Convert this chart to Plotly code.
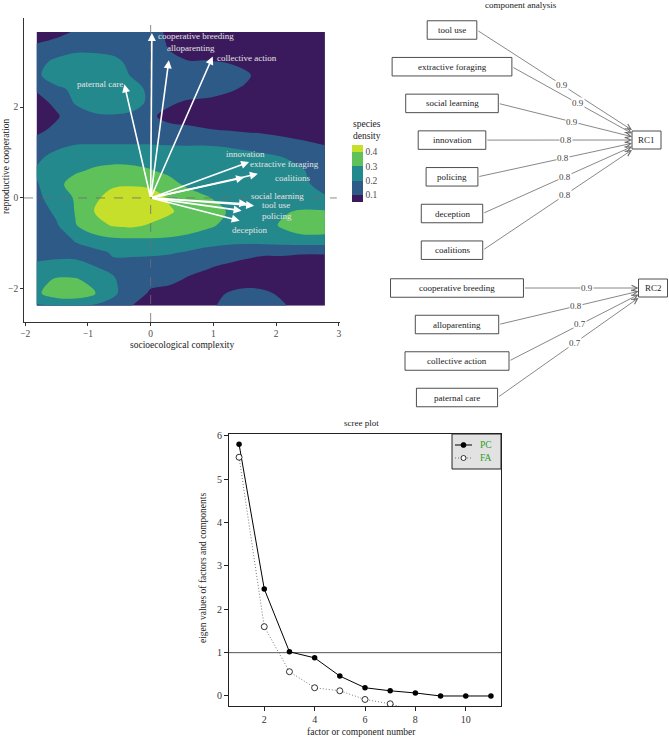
import plotly.graph_objects as go

W, H = 669, 739
FONT = "Liberation Serif"

# ---------------- Panel A: species density in component space ----------------
grid_x = [-1.82, -1.5, -1.2, -0.9, -0.6, -0.3, 0.0, 0.3, 0.6, 0.9, 1.2, 1.5, 1.8, 2.1, 2.4, 2.78]
grid_y = [-2.37, -2.1, -1.8, -1.5, -1.2, -0.9, -0.6, -0.3, 0.0, 0.3, 0.6, 0.9, 1.2, 1.5, 1.8,
          2.1, 2.4, 2.7, 3.0, 3.3, 3.65]
density = [
    [0.19, 0.20, 0.20, 0.19, 0.16, 0.10, 0.07, 0.05, 0.05, 0.08, 0.12, 0.14, 0.13, 0.11, 0.07, 0.05],
    [0.28, 0.36, 0.37, 0.31, 0.22, 0.14, 0.09, 0.07, 0.05, 0.06, 0.10, 0.125, 0.115, 0.085, 0.05, 0.05],
    [0.27, 0.31, 0.31, 0.27, 0.21, 0.15, 0.12, 0.12, 0.09, 0.07, 0.06, 0.06, 0.06, 0.05, 0.05, 0.05],
    [0.22, 0.24, 0.23, 0.20, 0.18, 0.16, 0.15, 0.14, 0.13, 0.11, 0.09, 0.08, 0.07, 0.07, 0.07, 0.07],
    [0.16, 0.16, 0.17, 0.17, 0.21, 0.22, 0.22, 0.21, 0.19, 0.17, 0.15, 0.12, 0.11, 0.11, 0.105, 0.105],
    [0.11, 0.16, 0.21, 0.27, 0.29, 0.295, 0.295, 0.29, 0.28, 0.25, 0.24, 0.25, 0.26, 0.27, 0.28, 0.28],
    [0.12, 0.19, 0.295, 0.36, 0.41, 0.42, 0.39, 0.37, 0.34, 0.32, 0.28, 0.26, 0.27, 0.31, 0.34, 0.34],
    [0.15, 0.22, 0.305, 0.40, 0.45, 0.46, 0.45, 0.41, 0.37, 0.34, 0.30, 0.27, 0.27, 0.29, 0.31, 0.31],
    [0.18, 0.24, 0.31, 0.38, 0.44, 0.46, 0.44, 0.39, 0.35, 0.305, 0.28, 0.26, 0.25, 0.25, 0.24, 0.21],
    [0.19, 0.28, 0.33, 0.37, 0.385, 0.39, 0.38, 0.33, 0.28, 0.27, 0.26, 0.25, 0.24, 0.23, 0.22, 0.17],
    [0.21, 0.26, 0.29, 0.31, 0.325, 0.32, 0.305, 0.28, 0.27, 0.26, 0.26, 0.25, 0.24, 0.23, 0.21, 0.15],
    [0.18, 0.23, 0.25, 0.27, 0.27, 0.27, 0.265, 0.26, 0.25, 0.25, 0.24, 0.23, 0.22, 0.20, 0.17, 0.13],
    [0.13, 0.17, 0.195, 0.195, 0.195, 0.195, 0.195, 0.19, 0.19, 0.19, 0.185, 0.17, 0.15, 0.13, 0.11, 0.095],
    [0.08, 0.12, 0.15, 0.16, 0.16, 0.15, 0.12, 0.12, 0.115, 0.105, 0.095, 0.085, 0.08, 0.07, 0.07, 0.06],
    [0.06, 0.09, 0.15, 0.18, 0.19, 0.18, 0.11, 0.08, 0.07, 0.05, 0.05, 0.05, 0.05, 0.05, 0.05, 0.05],
    [0.07, 0.12, 0.21, 0.27, 0.27, 0.24, 0.18, 0.11, 0.09, 0.08, 0.07, 0.05, 0.05, 0.05, 0.05, 0.05],
    [0.11, 0.18, 0.22, 0.28, 0.28, 0.25, 0.17, 0.15, 0.14, 0.14, 0.115, 0.09, 0.05, 0.05, 0.05, 0.05],
    [0.18, 0.26, 0.28, 0.28, 0.27, 0.19, 0.15, 0.15, 0.16, 0.16, 0.15, 0.12, 0.06, 0.05, 0.05, 0.05],
    [0.17, 0.22, 0.27, 0.27, 0.23, 0.17, 0.15, 0.12, 0.105, 0.105, 0.095, 0.07, 0.05, 0.05, 0.05, 0.05],
    [0.12, 0.15, 0.16, 0.16, 0.16, 0.15, 0.14, 0.095, 0.05, 0.05, 0.05, 0.05, 0.05, 0.05, 0.05, 0.05],
    [0.05, 0.07, 0.11, 0.15, 0.15, 0.15, 0.14, 0.08, 0.05, 0.05, 0.05, 0.05, 0.05, 0.05, 0.05, 0.05],
]
density_levels = [0.1, 0.2, 0.3, 0.4]
band_colors = ["#3a1a5c", "#2d5a87", "#23898d", "#5ec15a", "#c6df2b"]

var_names = ["cooperative breeding", "alloparenting", "collective action", "paternal care",
             "innovation", "extractive foraging", "coalitions", "social learning",
             "tool use", "policing", "deception"]
load_x = [0.02, 0.29, 0.99, -0.42, 1.57, 1.71, 1.49, 1.54, 1.65, 1.45, 1.42]
load_y = [3.63, 3.03, 3.11, 2.50, 0.79, 0.53, 0.45, -0.13, -0.17, -0.28, -0.50]
label_x = [0.73, 0.65, 1.54, -0.80, 1.51, 2.14, 2.27, 2.03, 2.00, 2.01, 1.58]
label_y = [3.56, 3.29, 3.09, 2.50, 0.96, 0.74, 0.43, 0.04, -0.16, -0.40, -0.71]

biplot_xticks = [-2, -1, 0, 1, 2, 3]
biplot_yticks = [-2, 0, 2]

# ---------------- Panel B: component analysis diagram ----------------
rc1_vars = ["tool use", "extractive foraging", "social learning", "innovation",
            "policing", "deception", "coalitions"]
rc1_loadings = [0.9, 0.9, 0.9, 0.8, 0.8, 0.8, 0.8]
rc2_vars = ["cooperative breeding", "alloparenting", "collective action", "paternal care"]
rc2_loadings = [0.9, 0.8, 0.7, 0.7]

# ---------------- Panel C: scree plot ----------------
factor_num = [1, 2, 3, 4, 5, 6, 7, 8, 9, 10, 11]
pc_eigen = [5.81, 2.47, 1.02, 0.88, 0.46, 0.19, 0.12, 0.07, 0.0, 0.0, 0.0]
fa_eigen = [5.51, 1.60, 0.56, 0.19, 0.12, -0.08, -0.18, -0.34, -0.45, -0.50, -0.55]
legend_names = ["PC", "FA"]


def fx(px):
    return px / W


def fy(py):
    return 1 - py / H


def paper_text(px, py, text, size=9.5, angle=0, xanchor="center", yanchor="middle", **kw):
    d = dict(xref="paper", yref="paper", x=fx(px), y=fy(py), text=text, showarrow=False,
             xanchor=xanchor, yanchor=yanchor, textangle=angle,
             font=dict(family=FONT, size=size, color=kw.pop("color", "#222")))
    d.update(kw)
    return d


fig = go.Figure()

# --- contour (species density)
n = len(band_colors)
cscale = [[i / (n - 1), c] for i, c in enumerate(band_colors)]
fig.add_trace(go.Contour(
    x=grid_x, y=grid_y, z=density, xaxis="x", yaxis="y",
    colorscale=cscale,
    contours=dict(start=density_levels[0], end=density_levels[-1],
                  size=density_levels[1] - density_levels[0],
                  coloring="fill", showlines=False),
    line=dict(width=0, smoothing=1.0),
    hoverinfo="skip", showlegend=False,
    colorbar=dict(x=fx(352), xanchor="left", y=fy(173.5), yanchor="middle",
                  thickness=11, len=57, lenmode="pixels",
                  tickvals=density_levels, ticktext=[str(v) for v in density_levels],
                  ticks="", outlinewidth=0, ypad=0, xpad=0,
                  tickfont=dict(family=FONT, size=9.5, color="#4d4d4d")),
))

annotations = []
shapes = []

# dashed reference lines
shapes.append(dict(type="line", xref="x", yref="y domain", x0=0, x1=0, y0=0, y1=1,
                   line=dict(color="#6e6e6e", width=0.8, dash="dash"), layer="above"))
shapes.append(dict(type="line", xref="x domain", yref="y", x0=0, x1=0.99, y0=0, y1=0,
                   line=dict(color="#6e6e6e", width=0.8, dash="dash"), layer="above"))

# loading arrows
for vx, vy in zip(load_x, load_y):
    annotations.append(dict(xref="x", yref="y", axref="x", ayref="y", x=vx, y=vy, ax=0, ay=0,
                            text="", showarrow=True, arrowhead=2, arrowsize=1.0,
                            arrowwidth=1.6, arrowcolor="white", standoff=0))
for name, lx, ly in zip(var_names, label_x, label_y):
    annotations.append(dict(xref="x", yref="y", x=lx, y=ly, text=name, showarrow=False,
                            xanchor="center", yanchor="middle",
                            font=dict(family=FONT, size=9, color="#e4e4e4")))

# axis titles panel A
annotations.append(paper_text(182, 345, "socioecological complexity"))
annotations.append(paper_text(6, 167, "reproductive cooperation", angle=-90))
annotations.append(paper_text(351, 143, "species<br>density", xanchor="left", yanchor="bottom", align="left"))

# --- component diagram
TW = {"a": 444, "b": 500, "c": 444, "d": 500, "e": 444, "f": 333, "g": 500, "h": 500, "i": 278,
      "j": 278, "k": 500, "l": 278, "m": 778, "n": 500, "o": 500, "p": 500, "q": 500, "r": 333,
      "s": 389, "t": 278, "u": 500, "v": 500, "w": 722, "x": 500, "y": 500, "z": 444, " ": 250}


def box_width(text):
    return 15.8 * sum(TW.get(ch, 500) for ch in text) / 1000.0


def draw_group(names, loads, cx, top, step, rc_label, rc_cx, rc_cy):
    box_h = 18.5
    rc_w, rc_h = 29, 18
    shapes.append(dict(type="rect", xref="x2", yref="y2", x0=rc_cx - rc_w / 2, x1=rc_cx + rc_w / 2,
                       y0=rc_cy - rc_h / 2, y1=rc_cy + rc_h / 2,
                       line=dict(color="#3a3a3a", width=0.9), fillcolor="white"))
    annotations.append(dict(xref="x2", yref="y2", x=rc_cx, y=rc_cy, text=rc_label, showarrow=False,
                            font=dict(family=FONT, size=9, color="#222")))
    centers = [top + i * step for i in range(len(names))]
    h = min(range(len(names)), key=lambda i: abs(centers[i] - rc_cy))
    for i, (nm, ld) in enumerate(zip(names, loads)):
        cy = centers[i]
        bw = box_width(nm)
        shapes.append(dict(type="rect", xref="x2", yref="y2", x0=cx - bw / 2, x1=cx + bw / 2,
                           y0=cy - box_h / 2, y1=cy + box_h / 2,
                           line=dict(color="#3a3a3a", width=0.9), fillcolor="white"))
        annotations.append(dict(xref="x2", yref="y2", x=cx, y=cy, text=nm, showarrow=False,
                                font=dict(family=FONT, size=9, color="#222")))
        sx, sy = cx + bw / 2, cy
        ex, ey = rc_cx - rc_w / 2, rc_cy + (i - h) * 3.3
        annotations.append(dict(xref="x2", yref="y2", axref="x2", ayref="y2", x=ex, y=ey, ax=sx, ay=sy,
                                text="", showarrow=True, arrowhead=5, arrowsize=1.4, arrowwidth=0.8,
                                arrowcolor="#6a6a6a", standoff=0))
        t = 0.55
        annotations.append(dict(xref="x2", yref="y2", x=sx + t * (ex - sx), y=sy + t * (ey - sy),
                                text=f"{ld:.1f}", showarrow=False, bgcolor="white", borderpad=0,
                                font=dict(family=FONT, size=9, color="#444")))


draw_group(rc1_vars, rc1_loadings, 452, 30, 36.7, "RC1", 646.5, 140)
draw_group(rc2_vars, rc2_loadings, 457, 288, 36.5, "RC2", 653, 288)
annotations.append(paper_text(521, 5, "component analysis", size=9))

# --- scree plot
pc_line = dict(color="black", width=1)
fa_line = dict(color="#777", width=1, dash="1px,2px")
pc_marker = dict(symbol="circle", size=5.5, color="black")
fa_marker = dict(symbol="circle", size=6, color="white", line=dict(color="black", width=0.8))
fig.add_trace(go.Scatter(x=factor_num, y=pc_eigen, xaxis="x3", yaxis="y3", name=legend_names[0],
                         mode="lines+markers", line=pc_line, marker=pc_marker, showlegend=False))
fig.add_trace(go.Scatter(x=factor_num, y=fa_eigen, xaxis="x3", yaxis="y3", name=legend_names[1],
                         mode="lines+markers", line=fa_line, marker=fa_marker, showlegend=False))
shapes.append(dict(type="line", xref="x3 domain", yref="y3", x0=0, x1=1, y0=1, y1=1,
                   line=dict(color="#555", width=1), layer="below"))
annotations.append(paper_text(361, 423, "scree plot", size=9))
annotations.append(paper_text(361, 732, "factor or component number"))
annotations.append(paper_text(203, 568, "eigen values of factors and components", angle=-90))

# legend box (drawn like R's legend())
shapes.append(dict(type="rect", xref="paper", yref="paper", x0=fx(452), x1=fx(501), y0=fy(469), y1=fy(434),
                   line=dict(color="#222", width=1), fillcolor="#e2e2e2", layer="above"))
for k, (nm, ln, mk) in enumerate(zip(legend_names, [pc_line, fa_line], [pc_marker, fa_marker])):
    ly = 445 + k * 13
    shapes.append(dict(type="line", xref="paper", yref="paper", x0=fx(455), x1=fx(472), y0=fy(ly), y1=fy(ly),
                       line=ln, layer="above"))
    shapes.append(dict(type="circle", xref="paper", yref="paper", x0=fx(461), x1=fx(466),
                       y0=fy(ly + 2.5), y1=fy(ly - 2.5), fillcolor=mk["color"],
                       line=dict(color="black", width=0.8), layer="above"))
    annotations.append(paper_text(478, ly, nm, size=9.5, xanchor="left", color="#2ca02c"))

axis_common = dict(showgrid=False, zeroline=False, ticks="outside", automargin=False)

fig.update_layout(
    width=W, height=H, margin=dict(l=0, r=0, t=0, b=0, autoexpand=False),
    paper_bgcolor="white", plot_bgcolor="rgba(0,0,0,0)",
    font=dict(family=FONT, size=9, color="#222"),
    xaxis=dict(domain=[fx(24), fx(340)], range=[-2.02, 3.02], anchor="y",
               tickvals=biplot_xticks, ticktext=[str(v).replace("-", "\u2212") for v in biplot_xticks],
               showline=True, linecolor="#333", linewidth=0.9, ticklen=3, tickcolor="#333",
               tickfont=dict(family=FONT, size=9.5, color="#4d4d4d"), **axis_common),
    yaxis=dict(domain=[fy(322), fy(18)], range=[-2.73, 3.96], anchor="x",
               tickvals=biplot_yticks, ticktext=[str(v).replace("-", "\u2212") for v in biplot_yticks],
               showline=True, linecolor="#333", linewidth=0.9, ticklen=3, tickcolor="#333",
               tickfont=dict(family=FONT, size=9.5, color="#4d4d4d"), **axis_common),
    xaxis2=dict(domain=[fx(380), 1], range=[380, 669], anchor="y2", visible=False),
    yaxis2=dict(domain=[fy(420), 1], range=[420, 0], anchor="x2", visible=False),
    xaxis3=dict(domain=[fx(229), fx(501)], range=[0.6, 11.4], anchor="y3",
                tickvals=[2, 4, 6, 8, 10], showline=True, mirror=True, linecolor="#222", linewidth=1,
                ticklen=4, tickcolor="#222", tickfont=dict(family=FONT, size=10, color="#333"),
                **axis_common),
    yaxis3=dict(domain=[fy(706), fy(434)], range=[-0.231, 6.046], anchor="x3",
                tickvals=[0, 1, 2, 3, 4, 5, 6], showline=True, mirror=True, linecolor="#222", linewidth=1,
                ticklen=4, tickcolor="#222", tickfont=dict(family=FONT, size=10, color="#333"),
                **axis_common),
    showlegend=False,
    annotations=annotations,
    shapes=shapes,
)

fig.write_html("out.html", config={"displayModeBar": False},
               post_script="document.body.style.margin='0px';document.body.style.overflow='hidden';")
